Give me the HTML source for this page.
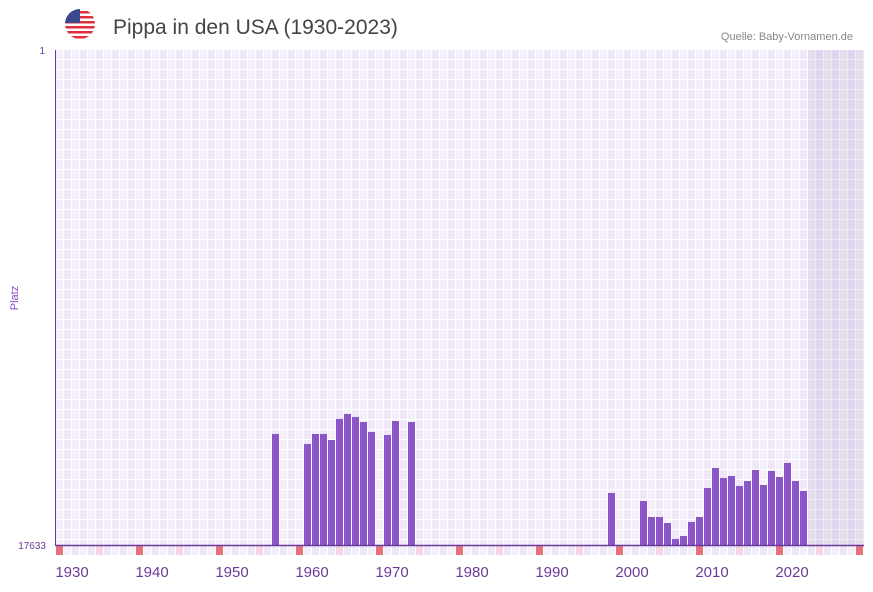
<!DOCTYPE html>
<html><head><meta charset="utf-8"><style>
body{margin:0;background:#fff;font-family:"Liberation Sans",sans-serif}
</style></head><body>
<svg id="c" width="873" height="587" xmlns="http://www.w3.org/2000/svg">
<defs>
<pattern id="grid" x="56" y="50" width="16" height="10" patternUnits="userSpaceOnUse">
<rect width="8" height="10" fill="#f3effb"/><rect x="8" width="8" height="10" fill="#ede7f8"/>
<rect x="7" width="1" height="10" fill="#fff"/><rect x="15" width="1" height="10" fill="#fff"/>
<rect y="9" width="16" height="1" fill="#fff"/>
</pattern>
<clipPath id="fc"><circle cx="80" cy="24" r="15"/></clipPath>
</defs>
<g clip-path="url(#fc)">
<rect x="65" y="9" width="30" height="30" fill="#fff"/>
<rect x="65" y="11" width="30" height="2.5" fill="#e0303a"/><rect x="65" y="16" width="30" height="2.5" fill="#e0303a"/>
<rect x="65" y="21" width="30" height="2.5" fill="#e0303a"/><rect x="65" y="26" width="30" height="2.5" fill="#e0303a"/>
<rect x="65" y="31" width="30" height="2.5" fill="#e0303a"/><rect x="65" y="36" width="30" height="2.5" fill="#e0303a"/>
<rect x="65" y="9" width="15" height="14" fill="#3a4a8c"/>
</g>
<text x="113" y="34" font-size="21" fill="#444">Pippa in den USA (1930-2023)</text>
<text x="853" y="40" font-size="11" fill="#888" text-anchor="end">Quelle: Baby-Vornamen.de</text>
<rect x="56" y="50" width="808" height="495" fill="url(#grid)"/>
<rect x="808" y="50" width="56" height="495" fill="#8a7aa8" opacity="0.15"/>
<g id="bars"></g><g id="marks"></g><g id="xl"></g>
<line x1="55.5" y1="50" x2="55.5" y2="545" stroke="#6a3a9a"/>
<line x1="55" y1="545.5" x2="864" y2="545.5" stroke="#6a3a9a" stroke-width="1.5"/>
<text x="45" y="54" font-size="10" fill="#6a3a9a" text-anchor="end">1</text>
<text x="46" y="549" font-size="10" fill="#6a3a9a" text-anchor="end">17633</text>
<text x="18" y="298" font-size="11" fill="#8a4ac8" text-anchor="middle" transform="rotate(-90 18 298)">Platz</text>
</svg>
<script>
const years=[1955,1959,1960,1961,1962,1963,1964,1965,1966,1967,1969,1970,1972,1997,2001,2002,2003,2004,2005,2006,2007,2008,2009,2010,2011,2012,2013,2014,2015,2016,2017,2018,2019,2020,2021];
const ranks=[13679,14035,13679,13679,13893,13144,12966,13073,13252,13608,13715,13216,13252,15781,16066,16636,16636,16850,17419,17312,16814,16636,15603,14890,15247,15176,15532,15354,14962,15496,14998,15211,14712,15354,15710];
const tickYears=[1930,1940,1950,1960,1970,1980,1990,2000,2010,2020];
const maxRank=17633,startYear=1928;
const ns="http://www.w3.org/2000/svg";
const x=y=>56+(y-startYear)*8;
const yv=r=>50+(r-1)/(maxRank-1)*495;
const bars=document.getElementById('bars');
years.forEach((yr,i)=>{
 const r=document.createElementNS(ns,'rect');
 r.setAttribute('x',x(yr));r.setAttribute('width',7);
 r.setAttribute('y',yv(ranks[i]));r.setAttribute('height',545-yv(ranks[i]));
 r.setAttribute('fill','#8c55c8');
 
 
 bars.appendChild(r);
});
const marks=document.getElementById('marks');
for(let yr=startYear;yr<2029;yr++){
 const m=document.createElementNS(ns,'rect');
 m.setAttribute('x',x(yr));m.setAttribute('y',546);m.setAttribute('width',7);m.setAttribute('height',9);
 const d=(yr-startYear)%10;
 m.setAttribute('fill',d===0?'#e6737c':d===5?'#f5d6e0':(yr%2?'#f3effb':'#ede7f8'));
 
 
 marks.appendChild(m);
}
const xl=document.getElementById('xl');
tickYears.forEach(t=>{
 const tx=document.createElementNS(ns,'text');
 tx.setAttribute('x',x(t));tx.setAttribute('y',577);
 tx.setAttribute('font-size','15');tx.setAttribute('fill','#6a3a9a');tx.setAttribute('text-anchor','middle');
 tx.textContent=t;
 
 
 xl.appendChild(tx);
});
</script>
</body></html>
